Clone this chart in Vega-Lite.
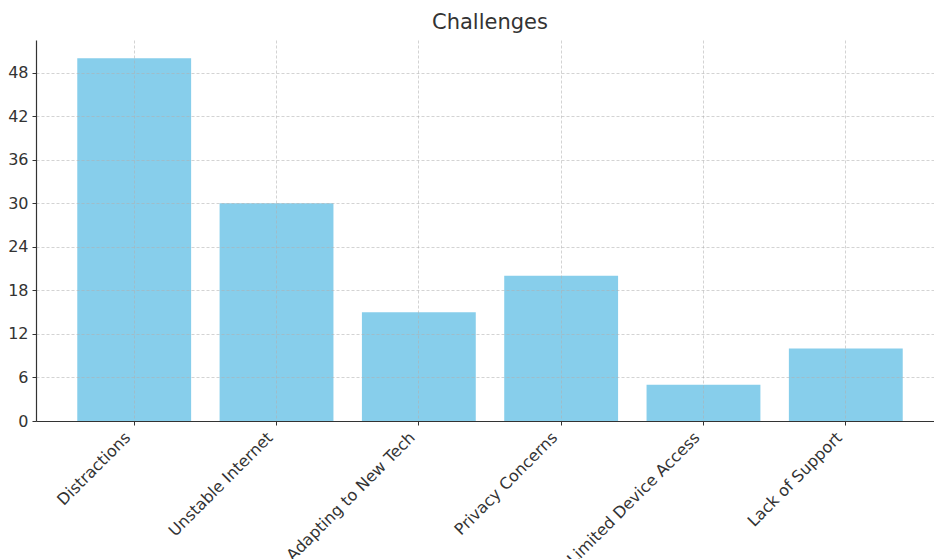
{
  "$schema": "https://vega.github.io/schema/vega-lite/v6.json",
  "autosize": "none",
  "padding": {"left": 36, "top": 40, "right": 0, "bottom": 138},
  "width": 908,
  "height": 381,
  "title": {
    "text": "Challenges",
    "font": "DejaVu Sans",
    "fontSize": 21,
    "fontWeight": "normal",
    "color": "#333333",
    "baseline": "alphabetic",
    "offset": -10
  },
  "data": {
    "values": [
      {"challenge": "Distractions", "count": 50},
      {"challenge": "Unstable Internet", "count": 30},
      {"challenge": "Adapting to New Tech", "count": 15},
      {"challenge": "Privacy Concerns", "count": 20},
      {"challenge": "Limited Device Access", "count": 5},
      {"challenge": "Lack of Support", "count": 10}
    ]
  },
  "mark": {"type": "bar", "color": "#87CEEB"},
  "encoding": {
    "x": {
      "field": "challenge",
      "type": "nominal",
      "sort": null,
      "scale": {"paddingInner": 0.2, "paddingOuter": 0.29},
      "axis": {
        "title": null,
        "labelAngle": -45,
        "labelAlign": "right",
        "labelBaseline": "top",
        "labelOffset": -12,
        "bandPosition": 0.5,
        "zindex": 1
      }
    },
    "y": {
      "field": "count",
      "type": "quantitative",
      "scale": {"domain": [0, 52.5], "nice": false},
      "axis": {
        "title": null,
        "values": [0, 6, 12, 18, 24, 30, 36, 42, 48],
        "zindex": 1
      }
    }
  },
  "config": {
    "view": {"stroke": null},
    "axis": {
      "labelFont": "DejaVu Sans",
      "labelFontSize": 16,
      "labelColor": "#333333",
      "labelPadding": 4,
      "domainColor": "#333333",
      "domainWidth": 1.2,
      "tickColor": "#333333",
      "tickSize": 4,
      "tickWidth": 1,
      "grid": true,
      "gridColor": "#b0b0b0",
      "gridOpacity": 0.7,
      "gridWidth": 0.8,
      "gridDash": [3, 2]
    }
  }
}
